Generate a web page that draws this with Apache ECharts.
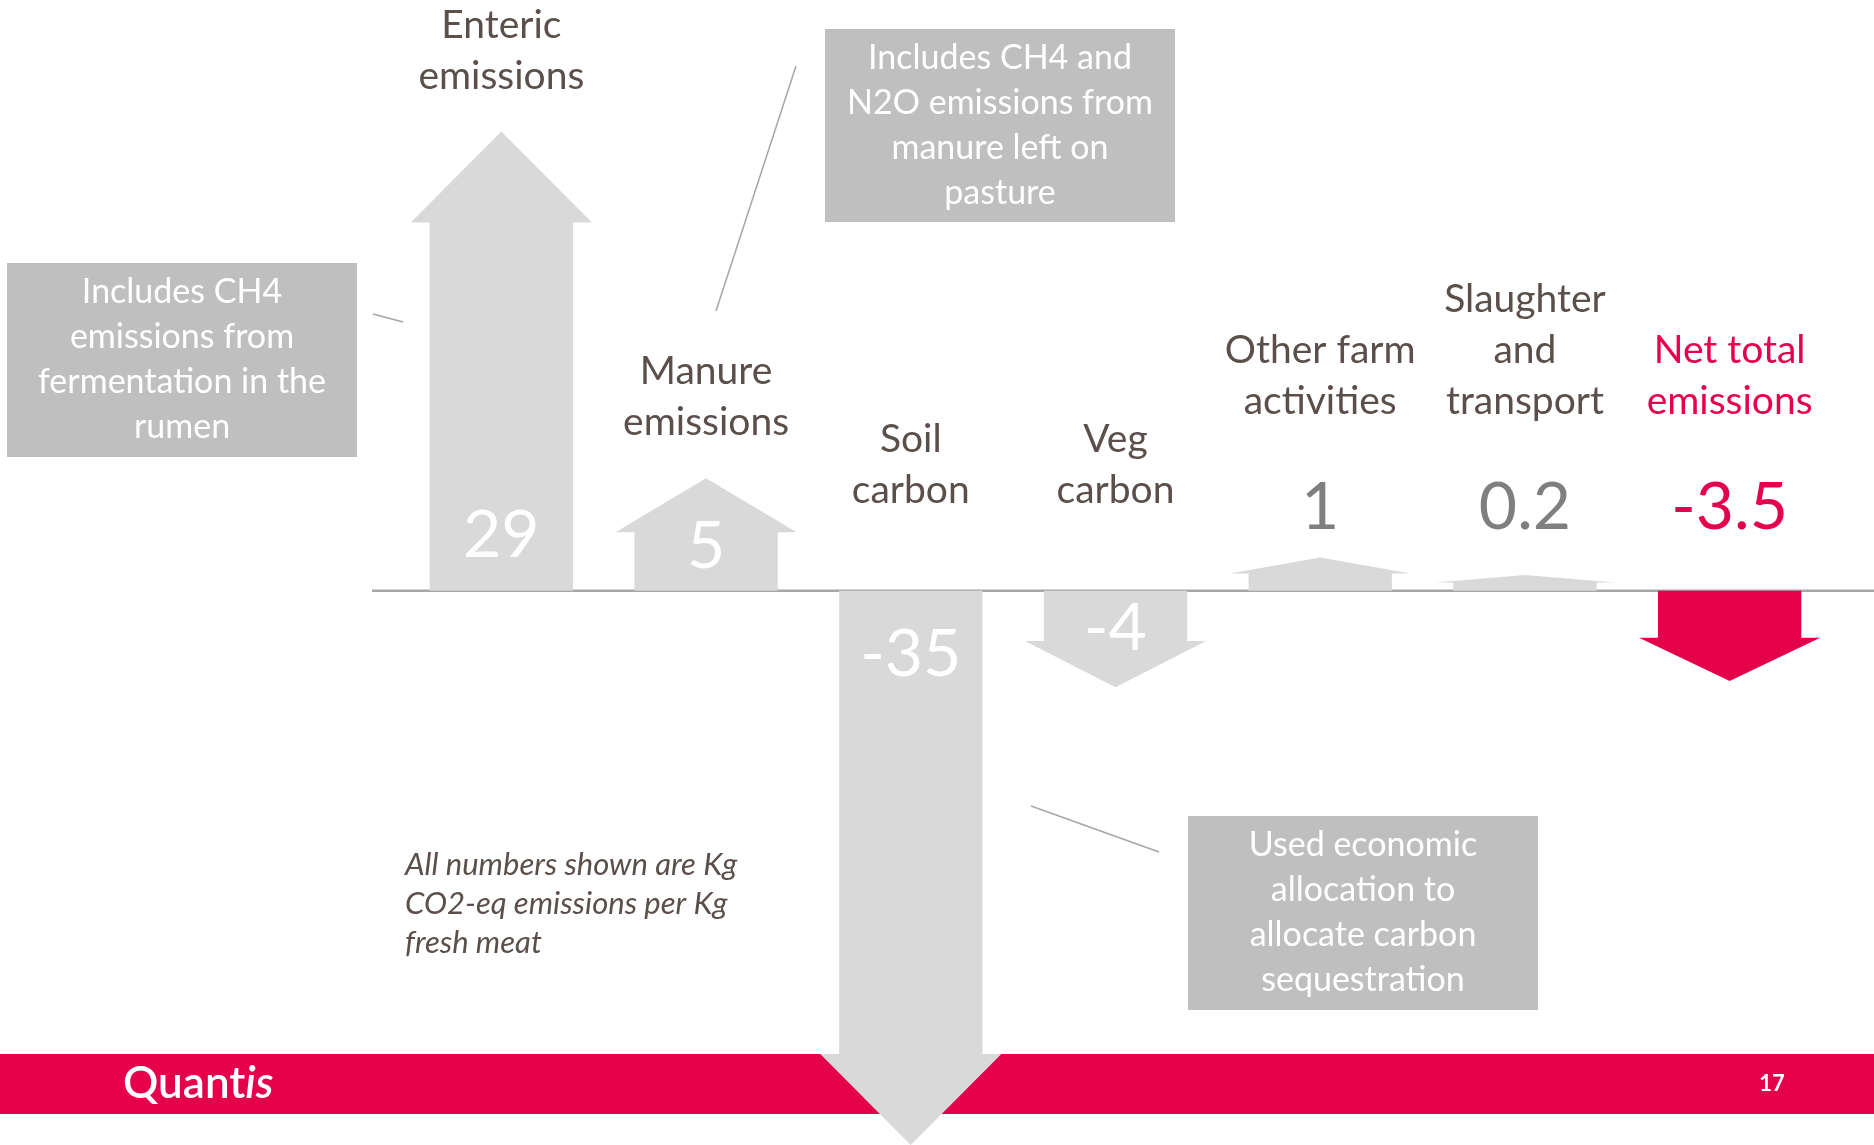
<!DOCTYPE html>
<html>
<head>
<meta charset="utf-8">
<script src="https://cdn.jsdelivr.net/npm/echarts@6/dist/echarts.min.js"></script>
<style>
  html, body { margin: 0; padding: 0; background: #fff; }
  #chart { width: 1874px; height: 1145px; }
</style>
</head>
<body>
<div id="chart"></div>
<script>
// kg CO2-eq per kg fresh meat
const categories = ["Enteric\nemissions", "Manure\nemissions", "Soil\ncarbon", "Veg\ncarbon",
  "Other farm\nactivities", "Slaughter\nand\ntransport", "Net total\nemissions"];
const values = [29, 5, -35, -4, 1, 0.2, -3.5];
// how long each arrow is drawn (small ones are exaggerated in the original slide)
const arrowExtent = [29, 7.1, -35, -6.1, 2.1, 1.0, -5.7];
const totalIndex = 6;

const FONT = "Lato, 'Open Sans', sans-serif";
const GREY = "#d9d9d9";
const RED = "#e4004b";
const TEXT = "#5a4f4b";
const BOX = "#bfbfbf";

const yMin = -35, yMax = 32, gridTop = 84, gridBottom = 0, H = 1145;
const zeroY = gridTop + (H - gridTop - gridBottom) * yMax / (yMax - yMin);

function renderItem(params, api) {
  const i = params.dataIndex;
  const ext = api.value(1);
  const val = api.value(2);
  const base = api.coord([api.value(0), 0]);
  const tip = api.coord([api.value(0), ext]);
  const bw = api.size([1, 0])[0];
  const cx = base[0], y0 = base[1];
  const up = ext >= 0;
  const len = Math.abs(tip[1] - y0);
  const head = Math.min(len * 0.48, 91);
  const hb = up ? tip[1] + head : tip[1] - head;
  const sw = bw * 0.70 / 2, hw = bw * 0.885 / 2;
  const isTotal = i === totalIndex;
  const inside = Math.abs(val) >= 4;

  let valY, valColor, nameBottom;
  if (inside) {
    const off = Math.min(up ? 55 : 64, len * 0.39);
    valY = up ? y0 - off : y0 + off;
    valColor = "#fff";
    nameBottom = up ? tip[1] - 30 : y0 - 75;
  } else {
    valY = y0 - 83;
    valColor = isTotal ? RED : "#7f7f7f";
    nameBottom = y0 - 164;
  }

  return {
    type: "group",
    children: [
      {
        type: "polygon",
        shape: { points: [[cx - sw, y0], [cx - sw, hb], [cx - hw, hb], [cx, tip[1]],
          [cx + hw, hb], [cx + sw, hb], [cx + sw, y0]] },
        style: { fill: isTotal ? RED : GREY }
      },
      {
        type: "text",
        style: { text: String(val), x: cx, y: valY, fill: valColor, font: "66px " + FONT,
          align: "center", verticalAlign: "middle" }
      },
      {
        type: "text",
        style: { text: categories[i], x: cx, y: nameBottom, fill: isTotal ? RED : TEXT,
          fontSize: 39, fontFamily: FONT, lineHeight: 51, align: "center", verticalAlign: "bottom" }
      }
    ]
  };
}

function noteBox(x, y, w, h, text) {
  return {
    type: "group", x: x, y: y, z: 10,
    children: [
      { type: "rect", shape: { x: 0, y: 0, width: w, height: h }, style: { fill: BOX } },
      { type: "text", style: { text: text, x: w / 2, y: h / 2, fill: "#fff", fontSize: 34,
        fontFamily: FONT, lineHeight: 45, align: "center", verticalAlign: "middle" } }
    ]
  };
}

function connector(x1, y1, x2, y2) {
  return { type: "line", shape: { x1: x1, y1: y1, x2: x2, y2: y2 }, z: 10,
    style: { stroke: "#a6a6a6", lineWidth: 1.5 } };
}

const chart = echarts.init(document.getElementById("chart"));
chart.setOption({
  backgroundColor: "#fff",
  animation: false,
  grid: { left: 399, right: 42, top: gridTop, bottom: gridBottom },
  xAxis: { type: "category", data: categories, show: false },
  yAxis: { type: "value", min: yMin, max: yMax, show: false },
  series: [{
    type: "custom",
    z: 5,
    renderItem: renderItem,
    data: values.map((v, i) => [i, arrowExtent[i], v])
  }],
  graphic: [
    { type: "rect", z: 0, shape: { x: 0, y: 1054, width: 1874, height: 60 }, style: { fill: RED } },
    { type: "line", z: 1, shape: { x1: 372, y1: zeroY, x2: 1874, y2: zeroY },
      style: { stroke: "#a6a6a6", lineWidth: 2.5 } },
    {
      type: "text", z: 10, x: 123, y: 1084,
      style: {
        text: "{a|Quant}{b|is}", verticalAlign: "middle",
        rich: {
          a: { fill: "#fff", fontSize: 44, fontFamily: FONT, fontWeight: 600 },
          b: { fill: "#fff", fontSize: 44, fontFamily: FONT, fontWeight: 600, fontStyle: "italic" }
        }
      }
    },
    { type: "text", z: 10, x: 1772, y: 1084,
      style: { text: "17", fill: "#fff", fontSize: 22, fontWeight: "bold", fontFamily: FONT,
        align: "center", verticalAlign: "middle" } },
    noteBox(7, 263, 350, 194, "Includes CH4\nemissions from\nfermentation in the\nrumen"),
    noteBox(825, 29, 350, 193, "Includes CH4 and\nN2O emissions from\nmanure left on\npasture"),
    noteBox(1188, 816, 350, 194, "Used economic\nallocation to\nallocate carbon\nsequestration"),
    connector(373, 314, 403, 322),
    connector(796, 66, 716, 311),
    connector(1031, 806, 1159, 852),
    { type: "text", z: 10, x: 405, y: 845,
      style: { text: "All numbers shown are Kg\nCO2-eq emissions per Kg\nfresh meat", fill: TEXT,
        fontSize: 31, fontStyle: "italic", fontFamily: FONT, lineHeight: 39, verticalAlign: "top" } }
  ]
});
</script>
</body>
</html>
